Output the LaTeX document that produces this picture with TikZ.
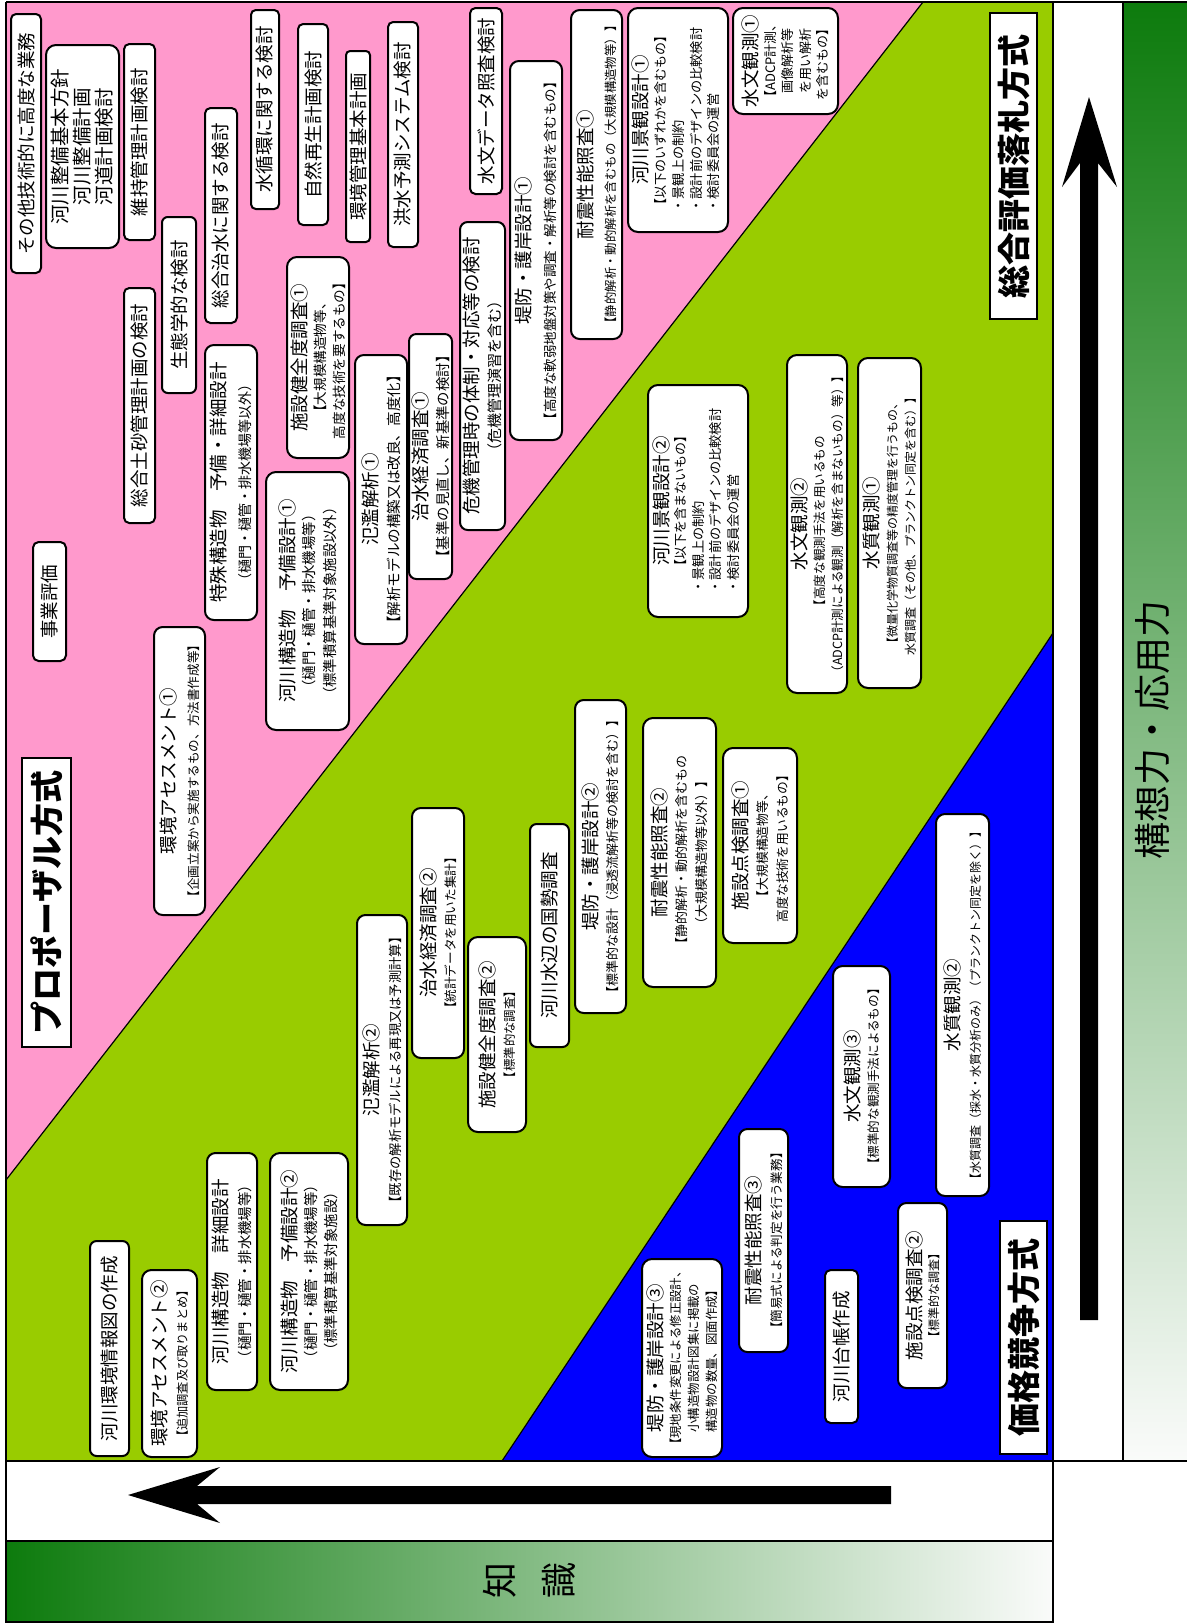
\documentclass[tikz,border=0pt]{standalone}
\usepackage{fontspec}
\setmainfont{Noto Sans CJK JP}
\definecolor{pk}{HTML}{FF99CC}
\definecolor{gr}{HTML}{99CC00}
\definecolor{bl}{HTML}{0000FF}
\definecolor{gT}{RGB}{13,123,13}
\definecolor{gM}{RGB}{182,200,182}
\definecolor{gB}{RGB}{250,251,250}
\newcommand\tl{\fontsize{9.25pt}{9.25pt}\selectfont}
\newcommand\sz[1]{\fontsize{#1pt}{#1pt}\selectfont}
\newcommand\bul[2]{{\fontsize{#1pt}{8.75pt}\selectfont\begin{tabular}[t]{@{}l@{}}#2\end{tabular}}}
\tikzset{
 box/.style={draw, line width=1pt, fill=white, rotate=90, inner sep=0pt, align=center},
 lbl/.style={draw, line width=0.8pt, fill=white, rotate=90, inner sep=0pt, font=\bfseries\fontsize{16.5pt}{16.5pt}\selectfont},
 frame/.style={line width=0.7pt},
}
\newcommand\bx[7]{%
 \pgfmathsetmacro\cx{(#2+#4)/2}%
 \pgfmathsetmacro\cy{(#3+#5)/2}%
 \pgfmathsetmacro\bw{(#5-#3)*0.5}%
 \pgfmathsetmacro\bh{(#4-#2)*0.5}%
 \pgfmathsetmacro\rc{min(0.17*(#4-#2),10)*0.5}%
 \node[box, rounded corners=\rc pt, minimum width=\bw pt, minimum height=\bh pt, font=\fontsize{9.25pt}{#6pt}\selectfont] (#1) at (\cx,\cy) {#7};}
\begin{document}
\begin{tikzpicture}[x=0.5pt,y=-0.5pt]
\useasboundingbox (0,0) rectangle (1187,1623);
\fill[white] (0,0) rectangle (1187,1623);
% regions
\fill[pk] (6,2) -- (923,2) -- (6,1180) -- cycle;
\fill[gr] (923,2) -- (1053,2) -- (1053,633) -- (502,1461) -- (6,1461) -- (6,1180) -- cycle;
\fill[bl] (1053,633) -- (1053,1461) -- (502,1461) -- cycle;
\draw[line width=0.6pt] (923,2) -- (6,1180);
\draw[line width=0.6pt] (1053,633) -- (502,1461);
% gradients
\shade[top color=gT, middle color=gM, bottom color=gB] (1123,2) rectangle (1187,1461);
\shade[left color=gT, middle color=gM, right color=gB] (6,1541) rectangle (1053,1622);
% frame
\draw[frame] (6,2) -- (1187,2);
\draw[frame] (6,2) -- (6,1622) -- (1053,1622) -- (1053,2);
\draw[frame] (6,1461) -- (1187,1461);
\draw[frame] (6,1541) -- (1053,1541);
\draw[frame] (1123,2) -- (1123,1461);
% arrows
\fill (128,1495) -- (220,1467) -- (197,1486) -- (891,1486) -- (891,1504) -- (197,1504) -- (220,1523) -- cycle;
\fill (1089,97) -- (1117,187) -- (1098,163) -- (1098,1320) -- (1080,1320) -- (1080,163) -- (1062,187) -- cycle;
% axis texts
\node[rotate=90, inner sep=0pt, font=\fontsize{18.5pt}{18.5pt}\selectfont] (ax1) at (1153,730) {構想力・応用力};
\node[inner sep=0pt, font=\fontsize{18pt}{18pt}\selectfont] (ax2) at (529,1580) {\rotatebox{90}{知}\hspace{13pt}\rotatebox{90}{識}};
% labels
\node[lbl, minimum width=153pt, minimum height=23.5pt] (lb1) at (1013.5,166) {総合評価落札方式};
\node[lbl, minimum width=144.5pt, minimum height=24.5pt] (lb2) at (46.5,902.5) {プロポーザル方式};
\node[lbl, minimum width=116.5pt, minimum height=23.5pt] (lb3) at (1023.5,1337.5) {価格競争方式};
% pink area
\bx{n1}{11}{14}{41}{273}{10}{\tl その他技術的に高度な業務}
\bx{n2}{46}{45}{119}{248}{11}{\sz{9.75}河川整備基本方針\\\sz{9.75}河川整備計画\\\sz{9.75}河道計画検討}
\bx{n3}{124}{44}{155}{240}{10}{\tl 維持管理計画検討}
\bx{n4}{251}{10}{279}{209}{10}{\tl 水循環に関する検討}
\bx{n5}{298}{24}{328}{225}{10}{\tl 自然再生計画検討}
\bx{n6}{346}{51}{370}{242}{10}{\tl 環境管理基本計画}
\bx{n7}{205}{108}{237}{323}{10}{\tl 総合治水に関する検討}
\bx{n8}{162}{217}{196}{393}{10}{\tl 生態学的な検討}
\bx{n9}{124}{288}{155}{523}{10}{\tl 総合土砂管理計画の検討}
\bx{n10}{287}{257}{349}{458}{9.5}{\tl 施設健全度調査①\\\sz{6.8}【大規模構造物等、\\\sz{6.8}高度な技術を要するもの】}
\bx{n11}{388}{22}{418}{247}{10}{\tl 洪水予測システム検討}
\bx{n12}{470}{8}{502}{194}{10}{\tl 水文データ照査検討}
\bx{n13}{510}{61}{562}{440}{12.5}{\tl 堤防・護岸設計①\\\sz{6.75}【高度な軟弱地盤対策や調査・解析等の検討を含むもの】}
\bx{n14}{571}{10}{622}{339}{11.5}{\tl 耐震性能照査①\\\sz{6.2}【静的解析・動的解析を含むもの（大規模構造物等）】}
\bx{n15}{628}{8}{728}{232}{9}{\tl 河川景観設計①\\\sz{6.5}【以下のいずれかを含むもの】\\\bul{6.6}{・景観上の制約\\・設計前のデザインの比較検討\\・検討委員会の運営}}
\bx{n16}{733}{8}{838}{114}{8.75}{\tl 水文観測①\\\sz{6.5}【ADCP計測、\\\sz{6.5}画像解析等\\\sz{6.5}を用い解析\\\sz{6.5}を含むもの】}
\bx{n19}{205}{345}{257}{620}{12.5}{\tl 特殊構造物　予備・詳細設計\\\sz{7}（樋門・樋管・排水機場等以外）}
\bx{n20}{266}{472}{349}{730}{10.25}{\tl 河川構造物　予備設計①\\\sz{7.2}（樋門・樋管・排水機場等）\\\sz{7.2}（標準積算基準対象施設以外）}
\bx{n21}{355}{355}{407}{644}{11}{\tl 氾濫解析①\\\sz{7.3}【解析モデルの構築又は改良、高度化】}
\bx{n22}{409}{334}{452}{579}{10.5}{\tl 治水経済調査①\\\sz{7.2}【基準の見直し、新基準の検討】}
\bx{n23}{460}{222}{505}{530}{11}{\tl 危機管理時の体制・対応等の検討\\\sz{7.5}（危機管理演習を含む）}
\bx{n26}{154}{627}{205}{915}{11.5}{\tl 環境アセスメント①\\\sz{6.3}【企画立案から実施するもの、方法書作成等】}
\bx{n27}{33}{542}{66}{661}{10}{\tl 事業評価}
% green area
\bx{n17}{787}{355}{847}{693}{9}{\tl 水文観測②\\\sz{6.3}【高度な観測手法を用いるもの\\\sz{6.3}（ADCP計測による観測（解析を含まないもの）等）】}
\bx{n18}{858}{358}{921}{688}{9}{\tl 水質観測①\\\sz{6.0}【微量化学物質調査等の精度管理を行うもの、\\\sz{6.0}水質調査（その他、プランクトン同定を含む）】}
\bx{n25}{648}{385}{748}{617}{8.75}{\tl 河川景観設計②\\\sz{6.5}【以下を含まないもの】\\\bul{6.6}{・景観上の制約\\・設計前のデザインの比較検討\\・検討委員会の運営}}
\bx{n28}{357}{915}{407}{1225}{11}{\tl 氾濫解析②\\\sz{6.65}【既存の解析モデルによる再現又は予測計算】}
\bx{n29}{412}{808}{464}{1058}{10}{\tl 治水経済調査②\\\sz{6.3}【統計データを用いた集計】}
\bx{n30}{468}{937}{526}{1132}{10}{\tl 施設健全度調査②\\\sz{6.2}【標準的な調査】}
\bx{n31}{530}{824}{569}{1047}{10}{\tl 河川水辺の国勢調査}
\bx{n32}{575}{700}{626}{1013}{10}{\tl 堤防・護岸設計②\\\sz{6.5}【標準的な設計（浸透流解析等の検討を含む）】}
\bx{n33}{643}{718}{716}{987}{10}{\tl 耐震性能照査②\\\sz{6.5}【静的解析・動的解析を含むもの\\\sz{6.5}（大規模構造物等以外）】}
\bx{n34}{723}{748}{797}{943}{10}{\tl 施設点検調査①\\\sz{6.4}【大規模構造物等、\\\sz{6.4}高度な技術を用いるもの】}
\bx{n35}{207}{1153}{257}{1390}{11.5}{\tl 河川構造物　詳細設計\\\sz{7.2}（樋門・樋管・排水機場等）}
\bx{n36}{270}{1153}{348}{1390}{10}{\tl 河川構造物　予備設計②\\\sz{7.2}（樋門・樋管・排水機場等）\\\sz{7.2}（標準積算基準対象施設）}
\bx{n37}{90}{1241}{129}{1456}{10}{\tl 河川環境情報図の作成}
\bx{n38}{142}{1270}{197}{1457}{10}{\tl 環境アセスメント②\\\sz{6.1}【追加調査及び取りまとめ】}
% blue area
\bx{n39}{642}{1259}{722}{1457}{9}{\tl 堤防・護岸設計③\\\sz{6.2}【現地条件変更による修正設計、\\\sz{6.2}小構造物設計図集に掲載の\\\sz{6.2}構造物の数量、図面作成】}
\bx{n40}{739}{1129}{788}{1352}{10.5}{\tl 耐震性能照査③\\\sz{6.3}【簡易式による判定を行う業務】}
\bx{n41}{825}{1270}{858}{1423}{10}{\tl 河川台帳作成}
\bx{n42}{898}{1203}{947}{1388}{8.5}{\tl 施設点検調査②\\\sz{6}【標準的な調査】}
\bx{n43}{833}{966}{890}{1187}{9.5}{\tl 水文観測③\\\sz{6.3}【標準的な観測手法によるもの】}
\bx{n44}{936}{814}{989}{1196}{10}{\tl 水質観測②\\\sz{6}【水質調査（採水・水質分析のみ）（プランクトン同定を除く）】}
\end{tikzpicture}
\end{document}
